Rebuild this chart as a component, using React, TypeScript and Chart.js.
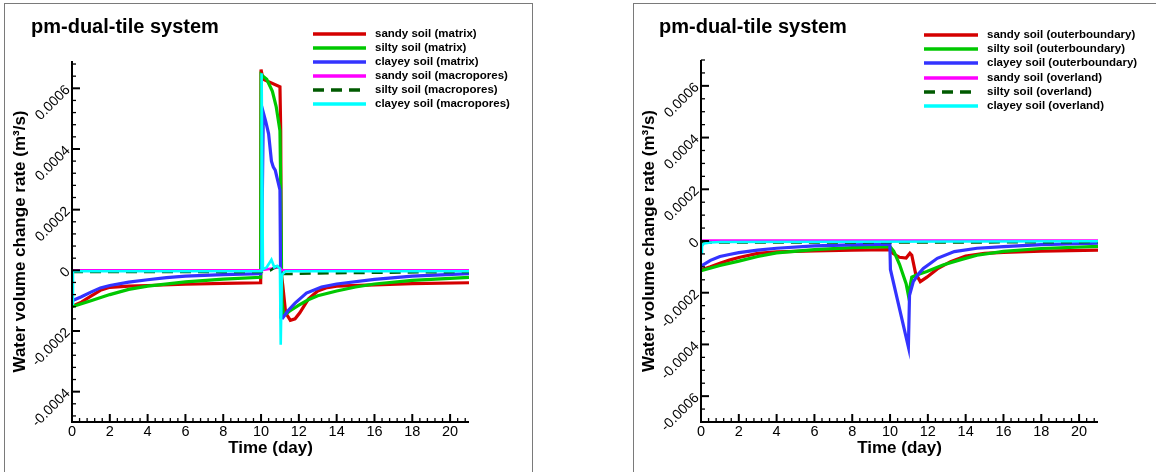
import React, { useEffect, useRef } from "react";
import { Chart, registerables } from "chart.js";

Chart.register(...registerables);

const FONT = "'Liberation Sans', Arial, Helvetica, sans-serif";

// ---------------- Shared axis data ----------------
const xMajorTicks = [0, 2, 4, 6, 8, 10, 12, 14, 16, 18, 20];
const xTickLabels = ["0", "2", "4", "6", "8", "10", "12", "14", "16", "18", "20"];

// ---------------- Left panel (matrix / macropores) ----------------
const leftYTicks = [-0.0004, -0.0002, 0, 0.0002, 0.0004, 0.0006];
const leftYTickLabels = ["-0.0004", "-0.0002", "0", "0.0002", "0.0004", "0.0006"];

const sandyMatrixT = [0, 0.5, 1, 1.5, 2, 3, 4, 6, 8, 9.98, 10.0, 10.1, 11.0, 11.04, 11.07, 11.15, 11.3, 11.55, 11.8, 12.05, 12.5, 13, 13.5, 14, 16, 18, 21];
const sandyMatrixV = [-1.18e-4, -1.05e-4, -0.85e-4, -0.66e-4, -0.56e-4, -0.52e-4, -0.5e-4, -0.46e-4, -0.43e-4, -0.41e-4, 6.62e-4, 6.3e-4, 6.05e-4, 4.6e-4, -0.1e-4, -0.5e-4, -1.4e-4, -1.65e-4, -1.6e-4, -1.4e-4, -0.95e-4, -0.68e-4, -0.57e-4, -0.52e-4, -0.48e-4, -0.44e-4, -0.41e-4];

const siltyMatrixT = [0, 1, 2, 3, 4, 6, 8, 9.98, 10.0, 10.3, 10.6, 10.8, 11.0, 11.04, 11.1, 11.2, 11.5, 12, 12.5, 13, 14, 15, 16, 18, 21];
const siltyMatrixV = [-1.2e-4, -1.0e-4, -0.8e-4, -0.63e-4, -0.52e-4, -0.38e-4, -0.29e-4, -0.23e-4, 6.45e-4, 6.3e-4, 5.9e-4, 5.4e-4, 4.6e-4, 2.8e-4, -1.0e-4, -1.5e-4, -1.35e-4, -1.15e-4, -0.97e-4, -0.84e-4, -0.68e-4, -0.55e-4, -0.45e-4, -0.33e-4, -0.23e-4];

const clayeyMatrixT = [0, 0.5, 1, 1.5, 2, 3, 4, 5, 6, 8, 9.98, 10.02, 10.12, 10.25, 10.4, 10.55, 10.65, 10.75, 11.0, 11.05, 11.15, 11.4, 11.8, 12.4, 13.2, 14, 16, 18, 21];
const clayeyMatrixV = [-1.0e-4, -0.87e-4, -0.72e-4, -0.58e-4, -0.5e-4, -0.39e-4, -0.31e-4, -0.24e-4, -0.19e-4, -0.14e-4, -0.11e-4, 0, 5.2e-4, 4.9e-4, 4.5e-4, 3.6e-4, 3.4e-4, 3.3e-4, 2.65e-4, -1.55e-4, -1.57e-4, -1.35e-4, -1.08e-4, -0.75e-4, -0.55e-4, -0.45e-4, -0.3e-4, -0.19e-4, -0.11e-4];

const sandyMacroT = [0, 10, 10.5, 10.95, 11.1, 21];
const sandyMacroV = [0, 0, 0.05e-4, 0.1e-4, 0.01e-4, 0];

const siltyMacroT = [0, 10, 10.5, 10.8, 11.0, 11.1, 11.5, 13, 16, 21];
const siltyMacroV = [-0.05e-4, -0.05e-4, 0, 0.12e-4, 0.1e-4, -0.12e-4, -0.12e-4, -0.1e-4, -0.08e-4, -0.05e-4];

const clayeyMacroT = [0, 0.05, 10.0, 10.03, 10.1, 10.3, 10.55, 10.7, 10.85, 11.0, 11.04, 11.1, 11.3, 21];
const clayeyMacroV = [-1.1e-4, -0.03e-4, -0.03e-4, 6.5e-4, 0.03e-4, 0.1e-4, 0.35e-4, 0.1e-4, 0.15e-4, 0.05e-4, -2.45e-4, -0.15e-4, -0.03e-4, -0.03e-4];

const leftLegend = [
  "sandy soil (matrix)",
  "silty soil (matrix)",
  "clayey soil (matrix)",
  "sandy soil (macropores)",
  "silty soil (macropores)",
  "clayey soil (macropores)",
];

// ---------------- Right panel (outer boundary / overland) ----------------
const rightYTicks = [-0.0006, -0.0004, -0.0002, 0, 0.0002, 0.0004, 0.0006];
const rightYTickLabels = ["-0.0006", "-0.0004", "-0.0002", "0", "0.0002", "0.0004", "0.0006"];

const sandyOuterT = [0, 0.5, 1, 1.5, 2, 3, 4, 6, 8, 10, 10.15, 10.5, 10.85, 11.05, 11.15, 11.35, 11.6, 11.95, 12.5, 13.2, 14, 15, 16, 18, 21];
const sandyOuterV = [-1.12e-4, -1.0e-4, -0.86e-4, -0.74e-4, -0.64e-4, -0.48e-4, -0.42e-4, -0.38e-4, -0.35e-4, -0.33e-4, -0.48e-4, -0.63e-4, -0.66e-4, -0.47e-4, -0.55e-4, -1.25e-4, -1.57e-4, -1.4e-4, -1.08e-4, -0.8e-4, -0.58e-4, -0.48e-4, -0.44e-4, -0.39e-4, -0.35e-4];

const siltyOuterT = [0, 1, 2, 3, 4, 6, 8, 10, 10.2, 10.5, 10.85, 10.97, 11.15, 11.4, 11.95, 12.8, 13.7, 14.6, 16, 18, 21];
const siltyOuterV = [-1.15e-4, -0.95e-4, -0.78e-4, -0.6e-4, -0.46e-4, -0.33e-4, -0.26e-4, -0.22e-4, -0.4e-4, -0.9e-4, -1.65e-4, -2.1e-4, -1.4e-4, -1.31e-4, -1.18e-4, -0.93e-4, -0.73e-4, -0.55e-4, -0.4e-4, -0.29e-4, -0.21e-4];

const clayeyOuterT = [0, 0.5, 1, 1.5, 2, 3, 4, 6, 8, 9.99, 10.02, 10.97, 11.03, 11.23, 11.5, 11.76, 12.5, 13.4, 14.6, 16, 18, 21];
const clayeyOuterV = [-0.97e-4, -0.75e-4, -0.6e-4, -0.52e-4, -0.45e-4, -0.35e-4, -0.28e-4, -0.19e-4, -0.15e-4, -0.12e-4, -1.1e-4, -4.1e-4, -2.1e-4, -1.57e-4, -1.28e-4, -1.06e-4, -0.67e-4, -0.41e-4, -0.28e-4, -0.22e-4, -0.14e-4, -0.08e-4];

const sandyOverlandT = [0, 0.1, 21];
const sandyOverlandV = [-0.1e-4, 0.02e-4, 0.02e-4];

const siltyOverlandT = [0, 0.2, 10, 11, 21];
const siltyOverlandV = [-0.03e-4, -0.06e-4, -0.05e-4, -0.06e-4, -0.04e-4];

const clayeyOverlandT = [0, 0.05, 0.15, 0.5, 1, 21];
const clayeyOverlandV = [-0.45e-4, -0.2e-4, -0.1e-4, -0.06e-4, -0.04e-4, -0.01e-4];

const rightLegend = [
  "sandy soil (outerboundary)",
  "silty soil (outerboundary)",
  "clayey soil (outerboundary)",
  "sandy soil (overland)",
  "silty soil (overland)",
  "clayey soil (overland)",
];

// ---------------- Styles ----------------
const COLORS = ["#d40000", "#00c800", "#3333ff", "#ff00ff", "#005a00", "#00ffff"];
const WIDTHS = [3.2, 3.2, 3.2, 2.6, 2.6, 2.6];
const DASHES: number[][] = [[], [], [], [], [11, 7], []];

function pts(t: number[], v: number[]) {
  return t.map((x, i) => ({ x, y: v[i] }));
}

function buildDatasets(series: { t: number[]; v: number[] }[], labels: string[]) {
  return series.map((s, i) => ({
    label: labels[i],
    data: pts(s.t, s.v),
    borderColor: COLORS[i],
    backgroundColor: COLORS[i],
    borderWidth: WIDTHS[i],
    borderDash: DASHES[i],
    pointRadius: 0,
    tension: 0,
    fill: false,
    order: 10 - i,
  }));
}

type PanelCfg = {
  title: string;
  legend: string[];
  yTicks: number[];
  yTickLabels: string[];
  yMinorStep: number;
  legendLineX: [number, number];
  legendTextX: number;
  legendRowsY: number[];
  titleX: number;
};

function decorPlugin(cfg: PanelCfg) {
  return {
    id: "decor",
    afterDraw(chart: any) {
      const ctx: CanvasRenderingContext2D = chart.ctx;
      const xs = chart.scales.x;
      const ys = chart.scales.y;
      const { left, right, top, bottom } = chart.chartArea;
      ctx.save();

      // axis lines
      ctx.strokeStyle = "#000";
      ctx.lineWidth = 2;
      ctx.setLineDash([]);
      ctx.beginPath();
      ctx.moveTo(left, top);
      ctx.lineTo(left, bottom);
      ctx.lineTo(right, bottom);
      ctx.stroke();

      // x minor ticks
      ctx.lineWidth = 1.3;
      const xMinorStep = 0.4;
      for (let k = 1; k * xMinorStep <= xs.max + 1e-9; k++) {
        const v = k * xMinorStep;
        if (Math.abs(v / 2 - Math.round(v / 2)) < 1e-6) continue;
        const px = xs.getPixelForValue(v);
        ctx.beginPath();
        ctx.moveTo(px, bottom);
        ctx.lineTo(px, bottom - 4);
        ctx.stroke();
      }
      // y minor ticks
      const kmin = Math.ceil(ys.min / cfg.yMinorStep - 1e-6);
      const kmax = Math.floor(ys.max / cfg.yMinorStep + 1e-6);
      for (let k = kmin; k <= kmax; k++) {
        const v = k * cfg.yMinorStep;
        if (cfg.yTicks.some((t) => Math.abs(t - v) < 1e-9)) continue;
        const py = ys.getPixelForValue(v);
        ctx.beginPath();
        ctx.moveTo(left, py);
        ctx.lineTo(left + 4, py);
        ctx.stroke();
      }
      // major ticks
      ctx.lineWidth = 2;
      xMajorTicks.forEach((v) => {
        const px = xs.getPixelForValue(v);
        ctx.beginPath();
        ctx.moveTo(px, bottom);
        ctx.lineTo(px, bottom - 8);
        ctx.stroke();
      });
      cfg.yTicks.forEach((v) => {
        const py = ys.getPixelForValue(v);
        ctx.beginPath();
        ctx.moveTo(left, py);
        ctx.lineTo(left + 8, py);
        ctx.stroke();
      });

      // x tick labels
      ctx.fillStyle = "#000";
      ctx.font = `14.5px ${FONT}`;
      ctx.textAlign = "center";
      ctx.textBaseline = "top";
      xMajorTicks.forEach((v, i) => {
        ctx.fillText(xTickLabels[i], xs.getPixelForValue(v), bottom + 3);
      });

      // y tick labels (rotated)
      ctx.font = `14px ${FONT}`;
      ctx.textAlign = "right";
      ctx.textBaseline = "middle";
      cfg.yTicks.forEach((v, i) => {
        const py = ys.getPixelForValue(v);
        ctx.save();
        ctx.translate(left - 4, py - 0.5);
        ctx.rotate((-45 * Math.PI) / 180);
        ctx.fillText(cfg.yTickLabels[i], 0, 0);
        ctx.restore();
      });

      // axis titles
      ctx.font = `bold 17px ${FONT}`;
      ctx.textAlign = "center";
      ctx.textBaseline = "middle";
      ctx.fillText("Time (day)", (left + right) / 2, 448);
      ctx.save();
      ctx.translate(left - 52, (top + bottom) / 2);
      ctx.rotate(-Math.PI / 2);
      ctx.fillText("Water volume change rate (m³/s)", 0, 0);
      ctx.restore();

      // panel title
      ctx.font = `bold 20px ${FONT}`;
      ctx.textAlign = "left";
      ctx.textBaseline = "alphabetic";
      ctx.fillText(cfg.title, cfg.titleX, 33);

      // legend
      ctx.font = `bold 11.5px ${FONT}`;
      ctx.textBaseline = "middle";
      cfg.legend.forEach((lab, i) => {
        const y = cfg.legendRowsY[i];
        ctx.strokeStyle = COLORS[i];
        ctx.lineWidth = 3.5;
        ctx.setLineDash(DASHES[i]);
        ctx.beginPath();
        ctx.moveTo(cfg.legendLineX[0], y);
        ctx.lineTo(cfg.legendLineX[1], y);
        ctx.stroke();
        ctx.setLineDash([]);
        ctx.fillStyle = "#000";
        ctx.fillText(lab, cfg.legendTextX, y);
      });

      ctx.restore();
    },
  };
}

function Panel(props: {
  width: number;
  datasets: any[];
  yMin: number;
  yMax: number;
  padding: { left: number; right: number; top: number; bottom: number };
  cfg: PanelCfg;
}) {
  const ref = useRef<HTMLCanvasElement | null>(null);
  useEffect(() => {
    if (!ref.current) return;
    const chart = new Chart(ref.current, {
      type: "line",
      data: { datasets: props.datasets },
      options: {
        responsive: false,
        animation: false,
        devicePixelRatio: 1,
        events: [],
        layout: { padding: props.padding },
        scales: {
          x: { type: "linear", min: 0, max: 21, display: false },
          y: { type: "linear", min: props.yMin, max: props.yMax, display: false },
        },
        plugins: {
          legend: { display: false },
          tooltip: { enabled: false },
          title: { display: false },
        },
        elements: { point: { radius: 0 }, line: { tension: 0 } },
      } as any,
      plugins: [decorPlugin(props.cfg)],
    });
    return () => chart.destroy();
  }, []);
  return (
    <canvas
      ref={ref}
      width={props.width}
      height={472}
      style={{ width: props.width, height: 472, display: "block" }}
    />
  );
}

export default function App() {
  const leftDatasets = buildDatasets(
    [
      { t: sandyMatrixT, v: sandyMatrixV },
      { t: siltyMatrixT, v: siltyMatrixV },
      { t: clayeyMatrixT, v: clayeyMatrixV },
      { t: sandyMacroT, v: sandyMacroV },
      { t: siltyMacroT, v: siltyMacroV },
      { t: clayeyMacroT, v: clayeyMacroV },
    ],
    leftLegend
  );
  const rightDatasets = buildDatasets(
    [
      { t: sandyOuterT, v: sandyOuterV },
      { t: siltyOuterT, v: siltyOuterV },
      { t: clayeyOuterT, v: clayeyOuterV },
      { t: sandyOverlandT, v: sandyOverlandV },
      { t: siltyOverlandT, v: siltyOverlandV },
      { t: clayeyOverlandT, v: clayeyOverlandV },
    ],
    rightLegend
  );

  return (
    <div
      style={{
        position: "absolute",
        left: 0,
        top: 0,
        width: 1156,
        height: 472,
        overflow: "hidden",
        background: "#fff",
      }}
    >
      <div
        style={{
          position: "absolute",
          left: 4,
          top: 3,
          width: 527,
          height: 500,
          borderLeft: "1px solid #7a7a7a",
          borderTop: "1px solid #7a7a7a",
          borderRight: "1px solid #7a7a7a",
        }}
      />
      <div
        style={{
          position: "absolute",
          left: 633,
          top: 3,
          width: 600,
          height: 500,
          borderLeft: "1px solid #7a7a7a",
          borderTop: "1px solid #7a7a7a",
        }}
      />
      <div style={{ position: "absolute", left: 0, top: 0 }}>
        <Panel
          width={580}
          datasets={leftDatasets}
          yMin={-0.0005}
          yMax={0.00069}
          padding={{ left: 72, right: 111, top: 61, bottom: 50 }}
          cfg={{
            title: "pm-dual-tile system",
            legend: leftLegend,
            yTicks: leftYTicks,
            yTickLabels: leftYTickLabels,
            yMinorStep: 0.00004,
            legendLineX: [313, 366],
            legendTextX: 375,
            legendRowsY: [34, 48, 62, 76, 90, 104],
            titleX: 31,
          }}
        />
      </div>
      <div style={{ position: "absolute", left: 580, top: 0 }}>
        <Panel
          width={576}
          datasets={rightDatasets}
          yMin={-0.0007}
          yMax={0.0007}
          padding={{ left: 121, right: 58, top: 60, bottom: 50 }}
          cfg={{
            title: "pm-dual-tile system",
            legend: rightLegend,
            yTicks: rightYTicks,
            yTickLabels: rightYTickLabels,
            yMinorStep: 0.00005,
            legendLineX: [344, 398],
            legendTextX: 407,
            legendRowsY: [35, 49, 63, 78, 92, 106],
            titleX: 79,
          }}
        />
      </div>
    </div>
  );
}
